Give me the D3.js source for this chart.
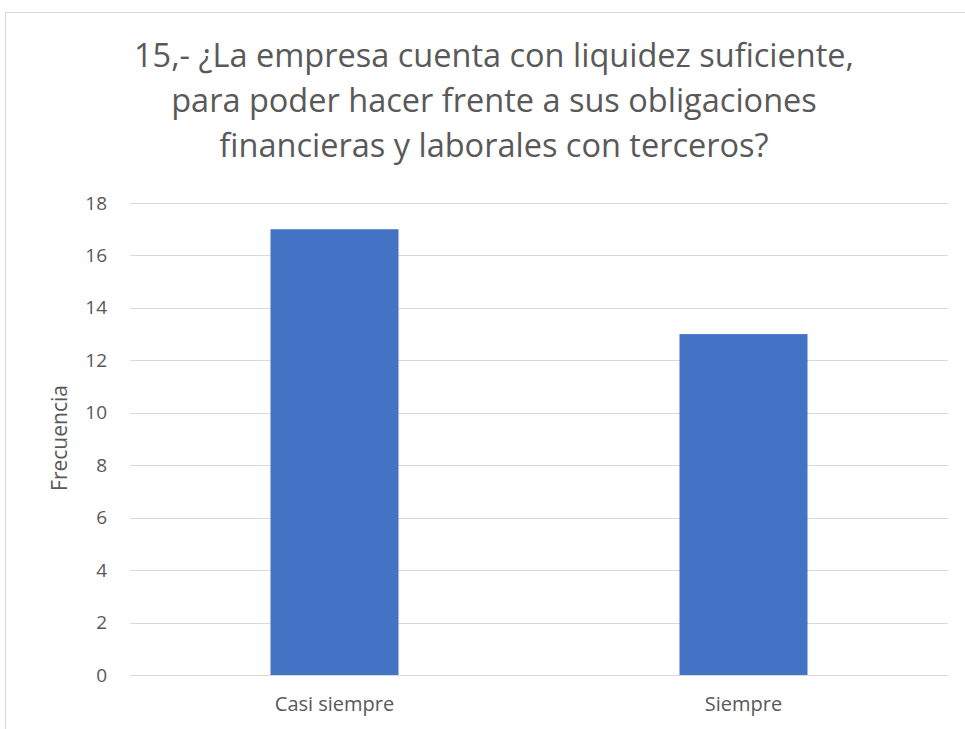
<!DOCTYPE html>
<meta charset="utf-8">
<style>
html, body { margin: 0; padding: 0; background: #fff; }
text { font-family: "Open Sans", sans-serif; fill: #595959; }
</style>
<body>
<script src="https://d3js.org/d3.v7.min.js"></script>
<script>

var width = 965,
    height = 729;

// data
var categories = ["Casi siempre", "Siempre"];
var frecuencias = [17, 13];
var yTicks = [0, 2, 4, 6, 8, 10, 12, 14, 16, 18];
var titleLines = [
  "15,- ¿La empresa cuenta con liquidez suficiente,",
  "para poder hacer frente a sus obligaciones",
  "financieras y laborales con terceros?"
];
var yLabel = "Frecuencia";

var plot = {left: 130, right: 948, top: 203, bottom: 675};

var svg = d3.select("body").append("svg")
  .attr("width", width)
  .attr("height", height);

// chart frame
svg.append("rect")
  .attr("x", 5.5)
  .attr("y", 12.5)
  .attr("width", 1000)
  .attr("height", 800)
  .attr("fill", "#fff")
  .attr("stroke", "#d9d9d9")
  .attr("stroke-width", 1);

var x = d3.scaleBand()
  .domain(categories)
  .range([plot.left, plot.right])
  .paddingInner(0.687)
  .paddingOuter(0.3435);

var y = d3.scaleLinear()
  .domain([0, 18])
  .range([plot.bottom, plot.top]);

// grid lines
svg.append("g").attr("class", "grid")
  .selectAll("line")
  .data(yTicks)
  .enter().append("line")
  .attr("x1", plot.left)
  .attr("x2", plot.right)
  .attr("y1", function(d){ return Math.round(y(d)) + 0.5; })
  .attr("y2", function(d){ return Math.round(y(d)) + 0.5; })
  .attr("stroke", "#d9d9d9")
  .attr("stroke-width", 1);

// y axis (labels only)
var yAxis = d3.axisLeft(y)
  .tickValues(yTicks)
  .tickSize(0)
  .tickPadding(0);

svg.append("g")
  .attr("transform", "translate(107,0)")
  .call(yAxis)
  .call(function(g){ g.select(".domain").remove(); })
  .selectAll("text")
  .attr("font-family", "Open Sans")
  .attr("font-size", "19px")
  .attr("fill", "#595959");

// bars
svg.append("g").attr("class", "bars")
  .selectAll("rect")
  .data(frecuencias)
  .enter().append("rect")
  .attr("x", function(d, i){ return x(categories[i]); })
  .attr("width", x.bandwidth())
  .attr("y", function(d){ return y(d); })
  .attr("height", function(d){ return y(0) - y(d); })
  .attr("fill", "#4472c4");

// x axis (labels only)
var xAxis = d3.axisBottom(x)
  .tickSize(0)
  .tickPadding(0);

svg.append("g")
  .attr("transform", "translate(0,697)")
  .call(xAxis)
  .call(function(g){ g.select(".domain").remove(); })
  .selectAll("text")
  .attr("font-family", "Open Sans")
  .attr("font-size", "20px")
  .attr("fill", "#595959");

// y label
svg.append("text")
  .attr("transform", "translate(67,438) rotate(-90)")
  .attr("text-anchor", "middle")
  .attr("font-size", "21px")
  .text(yLabel);

// title
svg.append("g").selectAll("text")
  .data(titleLines)
  .enter().append("text")
  .attr("x", 494)
  .attr("y", function(d, i){ return 67 + i * 45; })
  .attr("text-anchor", "middle")
  .attr("font-size", "32.5px")
  .text(function(d){ return d; });

</script>
</body>
